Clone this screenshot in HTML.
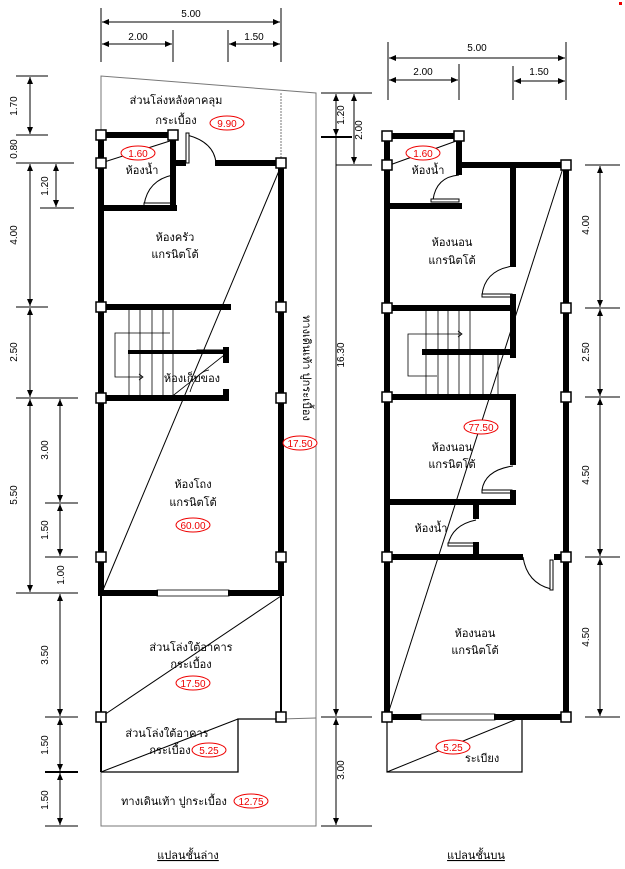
<!DOCTYPE html>
<html><head><meta charset="utf-8"><style>
html,body{margin:0;padding:0;background:#fff;width:625px;height:869px;overflow:hidden}
svg{display:block}
text{font-family:"Liberation Sans","Noto Sans CJK SC",sans-serif;fill:#000}
.d{font-size:10px}
.r{fill:#e00;font-size:10px}
.t{font-size:11px}
</style></head><body>
<svg width="625" height="869" viewBox="0 0 625 869" xmlns="http://www.w3.org/2000/svg">
<defs>
<marker id="a" markerWidth="8" markerHeight="8" refX="7" refY="3" orient="auto-start-reverse" markerUnits="userSpaceOnUse"><path d="M0,0 L7,3 L0,6 Z" fill="#000"/></marker>
</defs>
<g stroke="#000" stroke-width="1" fill="none">
<!-- ===== LEFT PLAN top dims ===== -->
<line x1="101" y1="8" x2="101" y2="62"/><line x1="281" y1="8" x2="281" y2="62"/>
<line x1="173" y1="30" x2="173" y2="62"/><line x1="228" y1="30" x2="228" y2="62"/>
<line x1="102" y1="22" x2="280" y2="22" marker-start="url(#a)" marker-end="url(#a)"/>
<line x1="102" y1="44" x2="172" y2="44" marker-start="url(#a)" marker-end="url(#a)"/>
<line x1="229" y1="44" x2="280" y2="44" marker-start="url(#a)" marker-end="url(#a)"/>
<!-- left dims -->
<line x1="16" y1="76" x2="48" y2="76"/><line x1="16" y1="135" x2="48" y2="135"/>
<line x1="16" y1="163" x2="74" y2="163"/><line x1="40" y1="208" x2="74" y2="208"/>
<line x1="16" y1="307" x2="48" y2="307"/><line x1="16" y1="398" x2="78" y2="398"/>
<line x1="45" y1="503" x2="78" y2="503"/><line x1="45" y1="557" x2="78" y2="557"/>
<line x1="16" y1="593" x2="78" y2="593"/><line x1="45" y1="717" x2="78" y2="717"/>
<line x1="45" y1="772" x2="78" y2="772" stroke-width="2"/><line x1="45" y1="826" x2="78" y2="826"/>
<line x1="30" y1="77" x2="30" y2="134" marker-start="url(#a)" marker-end="url(#a)"/>
<line x1="30" y1="164" x2="30" y2="306" marker-start="url(#a)" marker-end="url(#a)"/>
<line x1="30" y1="308" x2="30" y2="397" marker-start="url(#a)" marker-end="url(#a)"/>
<line x1="30" y1="399" x2="30" y2="592" marker-start="url(#a)" marker-end="url(#a)"/>
<line x1="56" y1="164" x2="56" y2="207" marker-start="url(#a)" marker-end="url(#a)"/>
<line x1="60" y1="399" x2="60" y2="502" marker-start="url(#a)" marker-end="url(#a)"/>
<line x1="60" y1="504" x2="60" y2="556" marker-start="url(#a)" marker-end="url(#a)"/>
<line x1="60" y1="594" x2="60" y2="716" marker-start="url(#a)" marker-end="url(#a)"/>
<line x1="60" y1="718" x2="60" y2="771" marker-start="url(#a)" marker-end="url(#a)"/>
<line x1="60" y1="773" x2="60" y2="825" marker-start="url(#a)" marker-end="url(#a)"/>
<!-- right dims of left plan -->
<line x1="321" y1="93" x2="372" y2="93"/><line x1="321" y1="137" x2="352" y2="137" stroke-width="2"/>
<line x1="336" y1="165" x2="372" y2="165"/><line x1="321" y1="717" x2="372" y2="717"/><line x1="321" y1="826" x2="372" y2="826"/>
<line x1="336" y1="94" x2="336" y2="136" marker-start="url(#a)" marker-end="url(#a)"/>
<line x1="354" y1="94" x2="354" y2="164" marker-start="url(#a)" marker-end="url(#a)"/>
<line x1="336" y1="138" x2="336" y2="716" marker-end="url(#a)"/>
<line x1="336" y1="718" x2="336" y2="825" marker-start="url(#a)" marker-end="url(#a)"/>
<!-- outer boundary -->
<g stroke="#777"><polyline points="101,135 101,76 316,93 316,826 101,826 101,772"/><line x1="281" y1="93" x2="281" y2="163" stroke-dasharray="2,1"/><line x1="281" y1="719" x2="316" y2="718"/></g>
<!-- porch -->
<line x1="101" y1="593" x2="101" y2="772" stroke-width="2"/><line x1="281" y1="593" x2="281" y2="717" stroke-width="2"/>
<polyline points="101,772 238,772 238,719 281,719" stroke-width="1.3"/>
<line x1="101" y1="717" x2="281" y2="596"/><line x1="101" y1="772" x2="238" y2="719"/>
<line x1="103" y1="590" x2="281" y2="166"/>
<line x1="101" y1="163" x2="173" y2="140"/>
<!-- stairs left -->
<g stroke-width="0.8"><line x1="129" y1="310" x2="129" y2="395"/><line x1="140" y1="310" x2="140" y2="395"/><line x1="152" y1="310" x2="152" y2="395"/><line x1="163" y1="310" x2="163" y2="395"/><line x1="173" y1="310" x2="173" y2="395"/>
<polyline points="170,333 115,333 115,377 142,377"/><path d="M139,374 L143,377 L139,380"/>
<line x1="170" y1="398" x2="228" y2="352"/><path d="M209,370 Q196,372 190,392"/></g>
<!-- doors left -->
<path d="M187,135 Q214,142 216,163"/><rect x="186" y="133" width="3" height="30" fill="#fff"/>
<path d="M173,175 Q148,180 144,205"/><rect x="144" y="203" width="29" height="3" fill="#fff"/>
<rect x="157" y="590" width="72" height="6" fill="#fff" stroke-width="0.8"/><line x1="191" y1="593" x2="191" y2="593"/>
<rect x="197" y="350" width="28" height="3" fill="#fff"/>
</g>
<!-- thick walls left -->
<g stroke="#000" stroke-width="6" fill="none" stroke-linecap="square">
<line x1="101" y1="135" x2="101" y2="593"/><line x1="281" y1="163" x2="281" y2="593"/>
<line x1="101" y1="135" x2="173" y2="135"/><line x1="173" y1="135" x2="173" y2="205"/>
<line x1="178" y1="163" x2="183" y2="163"/><line x1="218" y1="163" x2="281" y2="163"/>
<line x1="101" y1="208" x2="174" y2="208"/>
<line x1="101" y1="307" x2="228" y2="307"/><line x1="101" y1="398" x2="226" y2="398"/>
<line x1="130" y1="352" x2="224" y2="352" stroke-width="4"/><line x1="226" y1="350" x2="226" y2="360"/><line x1="226" y1="392" x2="226" y2="398"/>
<line x1="101" y1="593" x2="155" y2="593"/><line x1="231" y1="593" x2="281" y2="593"/>
</g>
<g fill="#fff" stroke="#000" stroke-width="1.5">
<rect x="96" y="130" width="10" height="10"/><rect x="168" y="130" width="10" height="10"/><rect x="96" y="158" width="10" height="10"/><rect x="276" y="158" width="10" height="10"/>
<rect x="96" y="302" width="10" height="10"/><rect x="276" y="302" width="10" height="10"/><rect x="96" y="393" width="10" height="10"/><rect x="276" y="393" width="10" height="10"/>
<rect x="96" y="552" width="10" height="10"/><rect x="276" y="552" width="10" height="10"/><rect x="96" y="712" width="10" height="10"/><rect x="276" y="712" width="10" height="10"/>
</g>

<!-- ===== RIGHT PLAN ===== -->
<g stroke="#000" stroke-width="1" fill="none">
<line x1="388" y1="42" x2="388" y2="100"/><line x1="566" y1="42" x2="566" y2="100"/>
<line x1="459" y1="64" x2="459" y2="100"/><line x1="513" y1="66" x2="513" y2="100"/>
<line x1="389" y1="58" x2="565" y2="58" marker-start="url(#a)" marker-end="url(#a)"/>
<line x1="389" y1="80" x2="458" y2="80" marker-start="url(#a)" marker-end="url(#a)"/>
<line x1="514" y1="81" x2="565" y2="81" marker-start="url(#a)" marker-end="url(#a)"/>
<line x1="585" y1="165" x2="620" y2="165"/><line x1="585" y1="308" x2="620" y2="308"/><line x1="585" y1="397" x2="620" y2="397"/>
<line x1="585" y1="557" x2="620" y2="557"/><line x1="585" y1="717" x2="620" y2="717"/>
<line x1="600" y1="166" x2="600" y2="307" marker-start="url(#a)" marker-end="url(#a)"/>
<line x1="600" y1="309" x2="600" y2="396" marker-start="url(#a)" marker-end="url(#a)"/>
<line x1="600" y1="398" x2="600" y2="556" marker-start="url(#a)" marker-end="url(#a)"/>
<line x1="600" y1="558" x2="600" y2="716" marker-start="url(#a)" marker-end="url(#a)"/>
<line x1="387" y1="717" x2="563" y2="168"/>
<line x1="387" y1="166" x2="459" y2="140"/>
<rect x="387" y="717" width="135" height="55" stroke-width="1.2"/><line x1="387" y1="772" x2="522" y2="717"/>
<g stroke-width="0.8"><line x1="426" y1="311" x2="426" y2="394"/><line x1="438" y1="311" x2="438" y2="394"/><line x1="448" y1="311" x2="448" y2="394"/><line x1="459" y1="311" x2="459" y2="394"/><line x1="470" y1="311" x2="470" y2="394"/><line x1="483" y1="354" x2="483" y2="394"/><line x1="498" y1="354" x2="498" y2="394"/>
<polyline points="408,376 437,376 408,376 408,334 461,334"/><path d="M458,331 L462,334 L458,337"/></g>
<path d="M459,175 Q436,177 433,200"/><rect x="431" y="199" width="28" height="3" fill="#fff"/>
<path d="M513,266 Q485,270 482,295"/><rect x="482" y="294" width="30" height="3" fill="#fff"/>
<path d="M513,466 Q485,470 482,490"/><rect x="482" y="490" width="30" height="3" fill="#fff"/>
<path d="M476,520 Q452,525 448,545"/><rect x="448" y="543" width="28" height="3" fill="#fff"/>
<path d="M523,557 Q527,583 551,589"/><rect x="550" y="560" width="3" height="30" fill="#fff"/>
<rect x="421" y="714" width="74" height="6" fill="#fff" stroke-width="0.8"/>
</g>
<g stroke="#000" stroke-width="6" fill="none" stroke-linecap="square">
<line x1="387" y1="136" x2="387" y2="717"/><line x1="566" y1="165" x2="566" y2="717"/>
<line x1="387" y1="136" x2="459" y2="136"/><line x1="459" y1="136" x2="459" y2="172"/>
<line x1="459" y1="165" x2="566" y2="165"/><line x1="387" y1="206" x2="459" y2="206"/>
<line x1="513" y1="165" x2="513" y2="264"/><line x1="513" y1="297" x2="513" y2="355"/>
<line x1="387" y1="308" x2="513" y2="308"/><line x1="425" y1="352" x2="513" y2="352"/>
<line x1="387" y1="397" x2="513" y2="397"/><line x1="513" y1="397" x2="513" y2="462"/><line x1="513" y1="493" x2="513" y2="502"/>
<line x1="387" y1="502" x2="513" y2="502"/><line x1="476" y1="505" x2="476" y2="516"/><line x1="476" y1="545" x2="476" y2="557"/>
<line x1="387" y1="557" x2="520" y2="557"/><line x1="557" y1="557" x2="566" y2="557"/>
<line x1="387" y1="717" x2="418" y2="717"/><line x1="497" y1="717" x2="566" y2="717"/>
</g>
<g fill="#fff" stroke="#000" stroke-width="1.5">
<rect x="382" y="131" width="10" height="10"/><rect x="454" y="131" width="10" height="10"/><rect x="382" y="160" width="10" height="10"/><rect x="561" y="160" width="10" height="10"/>
<rect x="382" y="303" width="10" height="10"/><rect x="561" y="303" width="10" height="10"/><rect x="382" y="392" width="10" height="10"/><rect x="561" y="392" width="10" height="10"/>
<rect x="382" y="552" width="10" height="10"/><rect x="561" y="552" width="10" height="10"/><rect x="382" y="712" width="10" height="10"/><rect x="561" y="712" width="10" height="10"/>
</g>

<!-- ellipses -->
<g fill="#fff" stroke="#e00" stroke-width="1">
<ellipse cx="227" cy="123" rx="17" ry="7"/><ellipse cx="138" cy="153" rx="17" ry="7"/><ellipse cx="300" cy="443" rx="17" ry="7"/>
<ellipse cx="193" cy="525" rx="17" ry="7"/><ellipse cx="193" cy="683" rx="17" ry="7"/><ellipse cx="209" cy="750" rx="17" ry="7"/>
<ellipse cx="251" cy="801" rx="17" ry="7"/><ellipse cx="423" cy="153" rx="17" ry="7"/><ellipse cx="481" cy="427" rx="17" ry="7"/><ellipse cx="453" cy="747" rx="17" ry="7"/>
</g>
<g class="r" text-anchor="middle">
<text x="227" y="127" class="r">9.90</text><text x="138" y="157" class="r">1.60</text><text x="300" y="447" class="r">17.50</text>
<text x="193" y="529" class="r">60.00</text><text x="193" y="687" class="r">17.50</text><text x="209" y="754" class="r">5.25</text>
<text x="251" y="805" class="r">12.75</text><text x="423" y="157" class="r">1.60</text><text x="481" y="431" class="r">77.50</text><text x="453" y="751" class="r">5.25</text>
</g>
<!-- dim labels -->
<g class="d" text-anchor="middle">
<text x="191" y="17" class="d">5.00</text><text x="138" y="40" class="d">2.00</text><text x="254" y="40" class="d">1.50</text>
<text x="477" y="51" class="d">5.00</text><text x="423" y="75" class="d">2.00</text><text x="539" y="75" class="d">1.50</text>
<text class="d" transform="translate(17,106) rotate(-90)">1.70</text>
<text class="d" transform="translate(17,149) rotate(-90)">0.80</text>
<text class="d" transform="translate(17,235) rotate(-90)">4.00</text>
<text class="d" transform="translate(17,352) rotate(-90)">2.50</text>
<text class="d" transform="translate(17,495) rotate(-90)">5.50</text>
<text class="d" transform="translate(48,186) rotate(-90)">1.20</text>
<text class="d" transform="translate(48,450) rotate(-90)">3.00</text>
<text class="d" transform="translate(48,530) rotate(-90)">1.50</text>
<text class="d" transform="translate(64,575) rotate(-90)">1.00</text>
<text class="d" transform="translate(48,655) rotate(-90)">3.50</text>
<text class="d" transform="translate(48,745) rotate(-90)">1.50</text>
<text class="d" transform="translate(48,800) rotate(-90)">1.50</text>
<text class="d" transform="translate(344,115) rotate(-90)">1.20</text>
<text class="d" transform="translate(362,130) rotate(-90)">2.00</text>
<text class="d" transform="translate(344,355) rotate(-90)">16.30</text>
<text class="d" transform="translate(344,770) rotate(-90)">3.00</text>
<text class="d" transform="translate(589,225) rotate(-90)">4.00</text>
<text class="d" transform="translate(589,352) rotate(-90)">2.50</text>
<text class="d" transform="translate(589,475) rotate(-90)">4.50</text>
<text class="d" transform="translate(589,637) rotate(-90)">4.50</text>
</g>
<!-- room labels -->
<g class="t" text-anchor="middle">
<text x="176" y="104" class="t">ส่วนโล่งหลังคาคลุม</text><text x="176" y="124" class="t">กระเบื้อง</text>
<text x="142" y="174" class="t">ห้องน้ำ</text>
<text x="175" y="241" class="t">ห้องครัว</text><text x="175" y="258" class="t">แกรนิตโต้</text>
<text x="192" y="382" class="t">ห้องเก็บของ</text>
<text x="193" y="488" class="t">ห้องโถง</text><text x="193" y="506" class="t">แกรนิตโต้</text>
<text x="191" y="651" class="t">ส่วนโล่งใต้อาคาร</text><text x="191" y="668" class="t">กระเบื้อง</text>
<text x="167" y="737" class="t">ส่วนโล่งใต้อาคาร</text><text x="170" y="754" class="t">กระเบื้อง</text>
<text x="174" y="805" class="t">ทางเดินเท้า ปูกระเบื้อง</text>
<text x="188" y="859" class="t" text-decoration="underline">แปลนชั้นล่าง</text>
<text class="t" transform="translate(303,368) rotate(90)">ทางเดินเท้า ปูกระเบื้อง</text>
<text x="428" y="174" class="t">ห้องน้ำ</text>
<text x="452" y="246" class="t">ห้องนอน</text><text x="452" y="264" class="t">แกรนิตโต้</text>
<text x="452" y="451" class="t">ห้องนอน</text><text x="452" y="468" class="t">แกรนิตโต้</text>
<text x="431" y="532" class="t">ห้องน้ำ</text>
<text x="475" y="637" class="t">ห้องนอน</text><text x="475" y="654" class="t">แกรนิตโต้</text>
<text x="482" y="762" class="t">ระเบียง</text>
<text x="476" y="859" class="t" text-decoration="underline">แปลนชั้นบน</text>
</g>
<rect x="619" y="2" width="3" height="3" fill="#e00"/>
</svg>
</body></html>
